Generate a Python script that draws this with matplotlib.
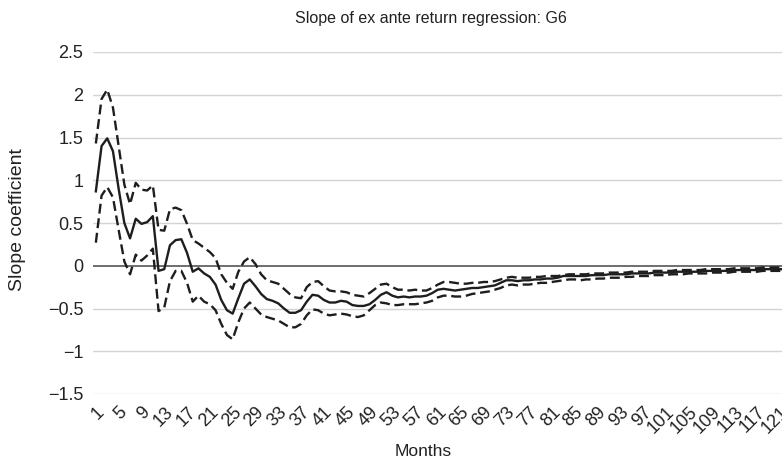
import numpy as np
import matplotlib
matplotlib.use("Agg")
import matplotlib.pyplot as plt

plt.rcParams['font.family'] = ['Liberation Sans', 'DejaVu Sans']

# Slope estimate (solid) and confidence bands (dashed), months 1..122
slope = [0.87, 1.40, 1.49, 1.34, 0.90, 0.50, 0.32, 0.55, 0.49, 0.51,
         0.58, -0.06, -0.04, 0.24, 0.30, 0.31, 0.15, -0.07, -0.03, -0.09,
         -0.13, -0.22, -0.40, -0.52, -0.56, -0.38, -0.21, -0.16, -0.24, -0.33,
         -0.39, -0.41, -0.44, -0.50, -0.55, -0.55, -0.52, -0.42, -0.34, -0.35,
         -0.40, -0.43, -0.43, -0.41, -0.42, -0.46, -0.47, -0.47, -0.45, -0.40,
         -0.34, -0.31, -0.35, -0.37, -0.36, -0.37, -0.36, -0.36, -0.35, -0.32,
         -0.28, -0.27, -0.28, -0.29, -0.28, -0.27, -0.26, -0.26, -0.25, -0.24,
         -0.23, -0.20, -0.17, -0.17, -0.18, -0.17, -0.17, -0.16, -0.16, -0.15,
         -0.15, -0.14, -0.12, -0.12, -0.12, -0.12, -0.12, -0.11, -0.11, -0.11,
         -0.10, -0.10, -0.10, -0.10, -0.09, -0.09, -0.09, -0.09, -0.08, -0.08,
         -0.08, -0.08, -0.07, -0.07, -0.07, -0.07, -0.07, -0.06, -0.06, -0.06,
         -0.06, -0.06, -0.05, -0.05, -0.05, -0.05, -0.05, -0.04, -0.04, -0.04,
         -0.04, -0.04]

upper = [1.43, 1.95, 2.06, 1.85, 1.40, 0.95, 0.72, 0.97, 0.89, 0.88,
         0.94, 0.42, 0.41, 0.66, 0.68, 0.65, 0.49, 0.30, 0.26, 0.21,
         0.16, 0.09, -0.10, -0.20, -0.27, -0.07, 0.05, 0.10, 0.02, -0.10,
         -0.17, -0.19, -0.21, -0.27, -0.33, -0.37, -0.38, -0.25, -0.19, -0.18,
         -0.24, -0.29, -0.30, -0.30, -0.31, -0.34, -0.35, -0.36, -0.32, -0.27,
         -0.22, -0.21, -0.25, -0.28, -0.28, -0.29, -0.28, -0.29, -0.29, -0.26,
         -0.22, -0.19, -0.19, -0.20, -0.21, -0.21, -0.20, -0.20, -0.19, -0.19,
         -0.18, -0.16, -0.14, -0.13, -0.14, -0.14, -0.14, -0.13, -0.13, -0.12,
         -0.12, -0.12, -0.11, -0.10, -0.10, -0.10, -0.10, -0.09, -0.09, -0.09,
         -0.08, -0.08, -0.08, -0.08, -0.07, -0.07, -0.07, -0.07, -0.06, -0.06,
         -0.06, -0.06, -0.05, -0.05, -0.05, -0.05, -0.05, -0.04, -0.04, -0.04,
         -0.04, -0.04, -0.03, -0.03, -0.03, -0.03, -0.03, -0.02, -0.02, -0.02,
         -0.02, -0.02]

lower = [0.27, 0.82, 0.92, 0.80, 0.42, 0.05, -0.10, 0.13, 0.06, 0.12,
         0.20, -0.53, -0.49, -0.18, -0.06, -0.06, -0.20, -0.42, -0.35, -0.42,
         -0.45, -0.52, -0.68, -0.81, -0.86, -0.66, -0.50, -0.43, -0.50, -0.57,
         -0.60, -0.62, -0.64, -0.68, -0.72, -0.72, -0.68, -0.58, -0.51, -0.52,
         -0.56, -0.58, -0.57, -0.56, -0.57, -0.59, -0.60, -0.58, -0.52, -0.46,
         -0.43, -0.44, -0.46, -0.46, -0.45, -0.45, -0.45, -0.44, -0.43, -0.41,
         -0.37, -0.35, -0.35, -0.36, -0.36, -0.35, -0.33, -0.32, -0.31, -0.30,
         -0.28, -0.26, -0.23, -0.22, -0.23, -0.22, -0.22, -0.21, -0.20, -0.20,
         -0.19, -0.18, -0.17, -0.16, -0.16, -0.17, -0.16, -0.16, -0.15, -0.15,
         -0.14, -0.14, -0.14, -0.13, -0.13, -0.12, -0.12, -0.12, -0.11, -0.11,
         -0.11, -0.10, -0.10, -0.10, -0.09, -0.09, -0.09, -0.09, -0.08, -0.08,
         -0.08, -0.08, -0.07, -0.07, -0.07, -0.07, -0.07, -0.06, -0.06, -0.06,
         -0.06, -0.06]

y_ticks = [-1.5, -1, -0.5, 0, 0.5, 1, 1.5, 2, 2.5]
y_labels = ["\u22121.5", "\u22121", "\u22120.5", "0", "0.5", "1", "1.5", "2", "2.5"]
x_ticks = list(range(1, 122, 4))

W, H = 782, 462
fig = plt.figure(figsize=(W / 100, H / 100), dpi=100)
ax = fig.add_axes([93 / W, 1 - 394 / H, (W - 93) / W, 342 / H])

line_col = "#1e1e1e"
dash = (0, (4.2, 2.0))
ax.plot(np.arange(1, len(upper) + 1), upper, color=line_col, lw=1.7,
        linestyle=dash)
ax.plot(np.arange(1, len(lower) + 1), lower, color=line_col, lw=1.7,
        linestyle=dash)
ax.plot(np.arange(1, len(slope) + 1), slope, color=line_col, lw=1.7)

ax.set_ylim(-1.5, 2.5)
ax.set_xlim(0.5, 0.5 + (W - 93) / 5.7)
ax.set_yticks(y_ticks)
ax.set_yticklabels(y_labels)
ax.set_xticks(x_ticks)
ax.set_xticklabels([str(t) for t in x_ticks], rotation=45, ha="right",
                   va="top", rotation_mode="anchor")
ax.tick_params(axis="both", length=0, labelsize=13, colors="#222222")
ax.tick_params(axis="y", pad=7)
ax.tick_params(axis="x", pad=7)

for v in y_ticks:
    ax.axhline(v, color="#555555" if v == 0 else "#d4d4d4",
               lw=1.2 if v == 0 else 1.0, zorder=0)
for s in ax.spines.values():
    s.set_visible(False)

fig.text(431 / W, 1 - 18 / H, "Slope of ex ante return regression: G6",
         ha="center", va="center", fontsize=11.5, color="#222222")
fig.text(423 / W, 1 - 451 / H, "Months", ha="center", va="center",
         fontsize=12.5, color="#222222")
fig.text(18 / W, 1 - 220 / H, "Slope coefficient", ha="center", va="center",
         rotation=90, fontsize=14, color="#222222")

fig.savefig("out.png", dpi=100)
